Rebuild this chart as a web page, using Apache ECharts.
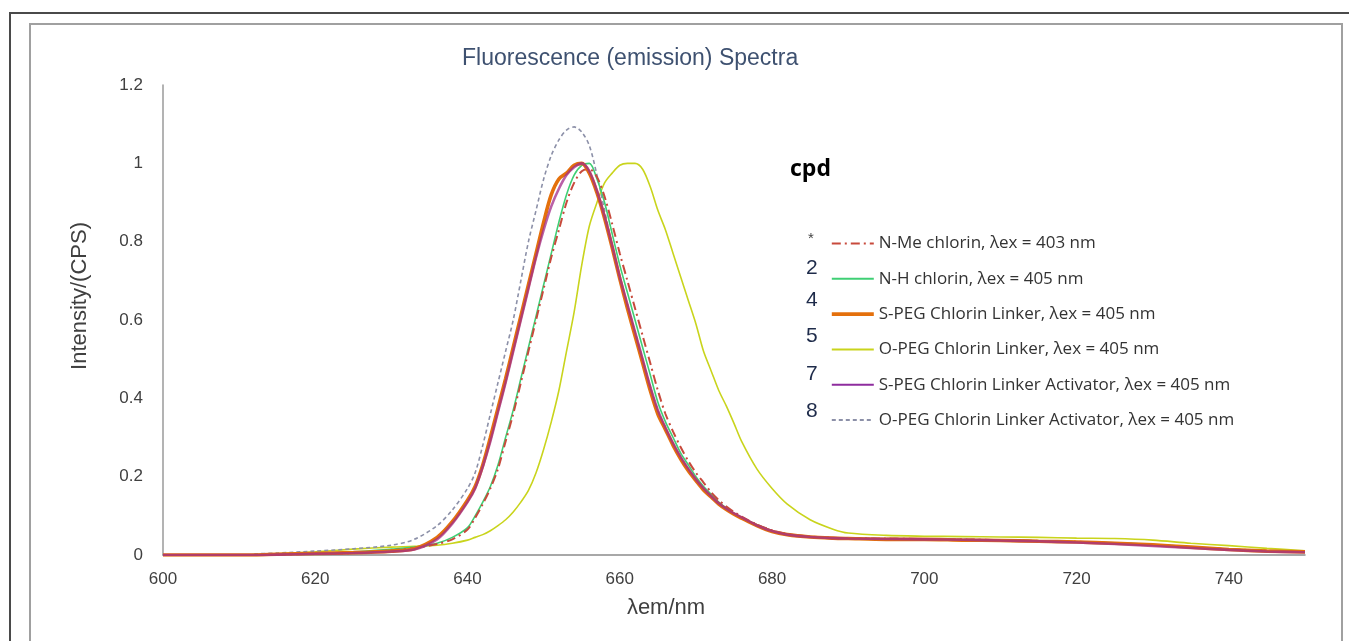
<!DOCTYPE html>
<html>
<head>
<meta charset="utf-8">
<script src="https://cdn.jsdelivr.net/npm/echarts@6/dist/echarts.min.js"></script>
<style>
  html, body { margin: 0; padding: 0; background: #fff; }
  #main { width: 1349px; height: 641px; }
</style>
</head>
<body>
<div id="main"></div>
<script>
// wavelength grid (nm) shared by all spectra
var wl = [600, 605, 610, 612, 615, 620, 625, 630, 633, 636, 638, 640,
  641, 642, 643, 644, 645, 646, 647, 648, 649, 650,
  651, 652, 653, 654, 655, 656, 657, 658, 659, 660,
  661, 662, 663, 664, 665, 666, 667, 668, 669, 670,
  671, 672, 673, 674, 675, 676,
  678, 680, 682, 685, 688, 690,
  695, 700, 705, 710, 715, 720, 725, 730, 735, 740, 745, 750];

// normalised intensities
var nMe = [0, 0, 0, 0, 0.001, 0.003, 0.005, 0.012, 0.018, 0.028, 0.04, 0.065,
  0.095, 0.13, 0.17, 0.22, 0.29, 0.36, 0.44, 0.52, 0.6, 0.68,
  0.76, 0.83, 0.9, 0.95, 0.98, 0.985, 0.965, 0.915, 0.845, 0.77,
  0.7, 0.63, 0.56, 0.49, 0.42, 0.36, 0.315, 0.275, 0.24, 0.21,
  0.185, 0.16, 0.14, 0.124, 0.11, 0.098,
  0.078, 0.063, 0.054, 0.047, 0.044, 0.043,
  0.042, 0.041, 0.04, 0.038, 0.036, 0.034, 0.03, 0.026, 0.02, 0.015, 0.011, 0.008];
var nH = [0, 0, 0, 0, 0.002, 0.004, 0.008, 0.015, 0.02, 0.03, 0.045, 0.07,
  0.1, 0.135, 0.175, 0.23, 0.3, 0.37, 0.45, 0.53, 0.61, 0.69,
  0.77, 0.85, 0.92, 0.97, 0.995, 1.0, 0.96, 0.9, 0.82, 0.74,
  0.67, 0.6, 0.53, 0.46, 0.39, 0.34, 0.3, 0.26, 0.23, 0.2,
  0.175, 0.155, 0.135, 0.12, 0.106, 0.095,
  0.077, 0.062, 0.053, 0.046, 0.043, 0.042,
  0.041, 0.04, 0.039, 0.038, 0.036, 0.034, 0.031, 0.027, 0.021, 0.015, 0.011, 0.008];
var sPegLinker = [0, 0, 0, 0, 0.002, 0.004, 0.006, 0.01, 0.016, 0.045, 0.085, 0.14,
  0.175, 0.23, 0.3, 0.375, 0.45, 0.53, 0.61, 0.69, 0.77, 0.85,
  0.92, 0.96, 0.975, 0.995, 1.0, 0.975, 0.925, 0.86, 0.785, 0.705,
  0.63, 0.56, 0.49, 0.42, 0.36, 0.32, 0.28, 0.245, 0.215, 0.19,
  0.166, 0.148, 0.13, 0.116, 0.104, 0.094,
  0.075, 0.06, 0.052, 0.046, 0.043, 0.042,
  0.04, 0.04, 0.038, 0.037, 0.035, 0.033, 0.03, 0.026, 0.02, 0.014, 0.01, 0.008];
var oPegLinker = [0, 0, 0, 0.001, 0.003, 0.008, 0.015, 0.02, 0.022, 0.025, 0.03, 0.038,
  0.045, 0.052, 0.062, 0.075, 0.09, 0.11, 0.135, 0.165, 0.21, 0.27,
  0.34, 0.42, 0.52, 0.62, 0.74, 0.84, 0.9, 0.95, 0.975, 0.995,
  1.0, 1.0, 0.985, 0.94, 0.88, 0.83, 0.77, 0.71, 0.65, 0.59,
  0.52, 0.47, 0.42, 0.38, 0.336, 0.29,
  0.22, 0.17, 0.13, 0.09, 0.066, 0.056,
  0.05, 0.048, 0.047, 0.046, 0.045, 0.043, 0.042, 0.038, 0.03, 0.024, 0.017, 0.011];
var sPegActivator = [0, 0, 0, 0, 0.001, 0.003, 0.005, 0.009, 0.014, 0.04, 0.08, 0.135,
  0.17, 0.225, 0.29, 0.365, 0.44, 0.52, 0.6, 0.68, 0.76, 0.83,
  0.89, 0.935, 0.97, 0.99, 1.0, 0.98, 0.93, 0.865, 0.79, 0.71,
  0.64, 0.57, 0.5, 0.43, 0.37, 0.325, 0.285, 0.25, 0.22, 0.193,
  0.17, 0.15, 0.132, 0.118, 0.106, 0.096,
  0.076, 0.061, 0.052, 0.046, 0.043, 0.042,
  0.041, 0.04, 0.039, 0.037, 0.035, 0.032, 0.028, 0.023, 0.018, 0.013, 0.009, 0.007];
var oPegActivator = [null, null, null, 0.003, 0.005, 0.01, 0.016, 0.025, 0.04, 0.075, 0.115, 0.17,
  0.21, 0.28, 0.36, 0.44, 0.52, 0.6, 0.7, 0.8, 0.88, 0.96,
  1.02, 1.06, 1.085, 1.093, 1.08, 1.045, 0.97, 0.88, 0.79, 0.71,
  0.64, 0.57, 0.5, 0.43, 0.37, 0.325, 0.285, 0.25, 0.22, 0.193,
  0.17, 0.15, 0.132, 0.118, 0.106, 0.096,
  0.077, 0.062, 0.053, 0.047, 0.044, 0.043,
  0.042, 0.041, 0.04, 0.038, 0.036, 0.034, 0.03, 0.026, 0.02, 0.015, 0.011, 0.008];

var names = [
  'N-Me chlorin, \u03bbex = 403 nm',
  'N-H chlorin, \u03bbex = 405 nm',
  'S-PEG Chlorin Linker, \u03bbex = 405 nm',
  'O-PEG Chlorin Linker, \u03bbex = 405 nm',
  'S-PEG Chlorin Linker Activator, \u03bbex = 405 nm',
  'O-PEG Chlorin Linker Activator, \u03bbex = 405 nm'
];
var cpdLabels = ['*', '2', '4', '5', '7', '8'];

function pairs(vals) {
  return wl.map(function (x, i) { return [x, vals[i]]; });
}

function line(name, vals, color, width, type, z, opacity) {
  return {
    name: name,
    type: 'line',
    data: pairs(vals),
    symbol: 'none',
    smooth: 0.3,
    z: z,
    lineStyle: { color: color, width: width, type: type, opacity: opacity == null ? 1 : opacity },
    itemStyle: { color: color }
  };
}

var myChart = echarts.init(document.getElementById('main'));

var labelY = [237, 270, 302, 338, 376, 413];
var graphics = [
  { type: 'polyline', silent: true, shape: { points: [[10, 641], [10, 13], [1349, 13]] },
    style: { stroke: '#4a4a4a', lineWidth: 2, fill: null } },
  { type: 'rect', silent: true, shape: { x: 30, y: 24, width: 1312, height: 640 },
    style: { stroke: '#a0a0a0', lineWidth: 2, fill: null } },
  { type: 'text', left: 790, top: 158,
    style: { text: 'cpd', font: 'bold 23px "Open Sans"', fill: '#000' } }
];
cpdLabels.forEach(function (t, i) {
  graphics.push({
    type: 'text', left: t === '*' ? 808 : 806, top: labelY[i] - (t === '*' ? 6 : 12),
    style: {
      text: t,
      font: t === '*' ? '15px "Liberation Sans"' : '21px "Liberation Sans"',
      fill: t === '*' ? '#444' : '#1e2b4a'
    }
  });
});

var legendData = names.map(function (n) { return { name: n }; });
legendData[2].lineStyle = { width: 3.6 };
legendData[4].lineStyle = { color: '#8e2c9e', opacity: 1, width: 2 };

var option = {
  animation: false,
  backgroundColor: '#fff',
  title: {
    text: 'Fluorescence (emission) Spectra',
    left: 457,
    top: 42,
    textStyle: { fontFamily: 'Liberation Sans', fontSize: 23, fontWeight: 'normal', color: '#3e5170' }
  },
  legend: {
    orient: 'vertical',
    left: 825,
    top: 230,
    itemWidth: 42,
    itemHeight: 16,
    itemGap: 18.3,
    itemStyle: { opacity: 0 },
    data: legendData,
    textStyle: { fontFamily: 'Open Sans', fontSize: 17, color: '#333', lineHeight: 16 }
  },
  grid: { left: 163, right: 44, top: 85, bottom: 86 },
  xAxis: {
    type: 'value',
    min: 600,
    max: 750,
    interval: 20,
    name: '\u03bbem/nm',
    nameLocation: 'middle',
    nameGap: 42,
    nameTextStyle: { fontFamily: 'Liberation Sans', fontSize: 22, color: '#404040', padding: [0, 136, 0, 0] },
    axisLine: { lineStyle: { color: '#8c8c8c', width: 1.5 } },
    axisTick: { show: false },
    splitLine: { show: false },
    axisLabel: { showMaxLabel: false, fontFamily: 'Liberation Sans', fontSize: 17, color: '#404040', margin: 16 }
  },
  yAxis: {
    type: 'value',
    min: 0,
    max: 1.2,
    interval: 0.2,
    name: 'Intensity/(CPS)',
    nameLocation: 'middle',
    nameRotate: 90,
    nameGap: 72,
    nameTextStyle: { fontFamily: 'Liberation Sans', fontSize: 22, color: '#404040', padding: [0, 0, 0, 48] },
    axisLine: { show: true, lineStyle: { color: '#9a9a9a', width: 1.5 } },
    axisTick: { show: false },
    splitLine: { show: false },
    axisLabel: { fontFamily: 'Liberation Sans', fontSize: 17, color: '#404040', margin: 20 }
  },
  graphic: graphics,
  series: [
    line(names[3], oPegLinker, '#c9d41c', 1.6, 'solid', 2),
    line(names[5], oPegActivator, '#8c90a8', 1.6, [4, 3], 3),
    line(names[1], nH, '#3fcf74', 1.6, 'solid', 4),
    line(names[0], nMe, '#c84a3c', 2, [9, 4, 2, 4], 5),
    line(names[2], sPegLinker, '#e4700c', 3.6, 'solid', 6),
    line(names[4], sPegActivator, '#a22c8a', 2.6, 'solid', 7, 0.75)
  ]
};

if (option && typeof option === 'object') {
  myChart.setOption(option, true);
}
</script>
</body>
</html>
